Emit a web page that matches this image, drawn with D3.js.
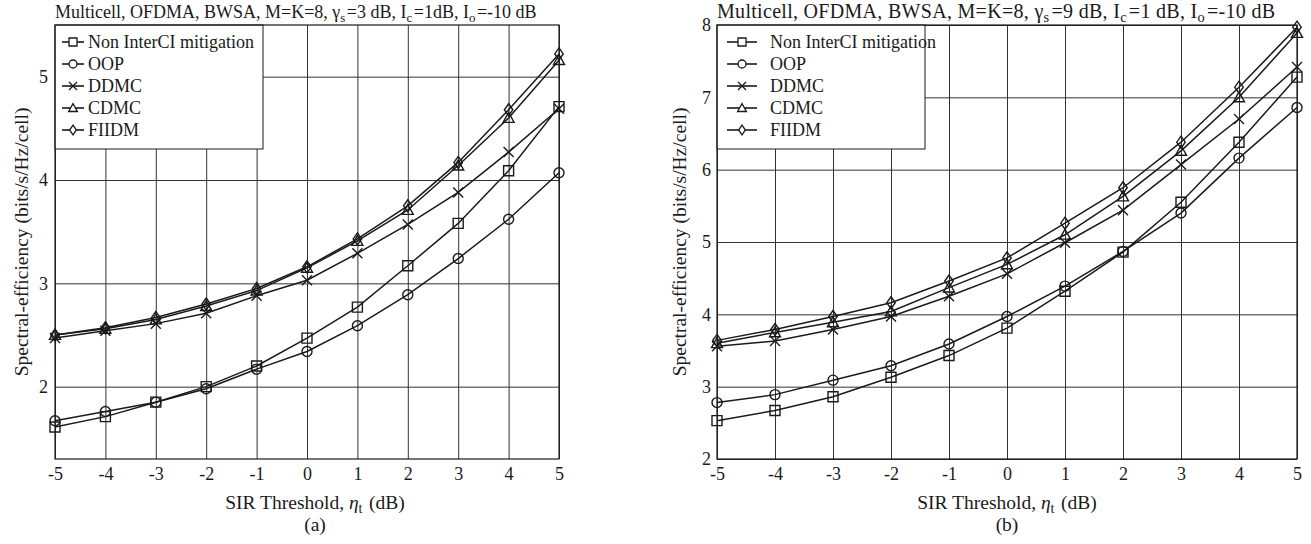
<!DOCTYPE html>
<html><head><meta charset="utf-8">
<script src="https://cdn.jsdelivr.net/npm/d3@7"></script>
<style>
body{margin:0;background:#fff}
text{font-family:"Liberation Serif","Times New Roman",serif;fill:#1a1a1a}
</style>
</head><body>
<svg id="c" width="1311" height="544"></svg>
<script>
// ---------- data ----------
const sirThreshold = [-5,-4,-3,-2,-1,0,1,2,3,4,5];
const seriesNames = ["Non InterCI mitigation","OOP","DDMC","CDMC","FIIDM"];
const markerTypes = ["square","circle","cross","triangle","diamond"];
const xTickLabels = ["-5","-4","-3","-2","-1","0","1","2","3","4","5"];

// (a) gamma_s = 3 dB
const aNonInterCI = [1.61,1.71,1.85,2.00,2.20,2.47,2.77,3.17,3.58,4.09,4.71];
const aOOP        = [1.67,1.76,1.85,1.98,2.17,2.34,2.59,2.89,3.24,3.62,4.07];
const aDDMC       = [2.47,2.54,2.61,2.71,2.88,3.03,3.29,3.57,3.88,4.27,4.69];
const aCDMC       = [2.50,2.56,2.65,2.78,2.93,3.15,3.41,3.71,4.14,4.60,5.16];
const aFIIDM      = [2.50,2.57,2.67,2.80,2.95,3.16,3.43,3.75,4.17,4.68,5.22];
const aYTicks = [2,3,4,5];

// (b) gamma_s = 9 dB
const bNonInterCI = [2.53,2.67,2.86,3.13,3.43,3.81,4.32,4.86,5.55,6.38,7.28];
const bOOP        = [2.78,2.89,3.09,3.29,3.59,3.97,4.39,4.87,5.40,6.16,6.86];
const bDDMC       = [3.56,3.63,3.79,3.97,4.25,4.56,4.99,5.44,6.07,6.70,7.42];
const bCDMC       = [3.60,3.75,3.89,4.04,4.37,4.69,5.10,5.63,6.26,7.00,7.89];
const bFIIDM      = [3.64,3.79,3.97,4.16,4.46,4.78,5.26,5.75,6.38,7.14,7.97];
const bYTicks = [2,3,4,5,6,7,8];

// ---------- drawing ----------
const svg = d3.select("#c");

function markerPath(type, s){
  const h = s/2;
  switch(type){
    case "square": return `M${-h},${-h}H${h}V${h}H${-h}Z`;
    case "circle": return `M${h},0A${h},${h} 0 1,1 ${-h},0A${h},${h} 0 1,1 ${h},0Z`;
    case "cross": return `M${-h},${-h}L${h},${h}M${-h},${h}L${h},${-h}`;
    case "triangle": { const t=h*1.1; return `M0,${-t}L${t},${t*0.8}L${-t},${t*0.8}Z`; }
    case "diamond": { const w=h*0.85, v=h*1.2; return `M0,${-v}L${w},0L0,${v}L${-w},0Z`; }
  }
}

function addSubText(sel, parts){
  parts.forEach(p=>{
    const ts = sel.append("tspan").text(p.t);
    if(p.i) ts.attr("font-style","italic");
    if(p.sub){
      ts.attr("font-size","0.72em").attr("dy","0.28em");
      sel.append("tspan").attr("dy","-0.2em").text("\u200A");
    }
  });
}

function drawChart(cfg){
  const {x0,x1,y0,y1,yDomain,yTicks,series,title,sub,lg:L} = cfg;
  const x = d3.scaleLinear().domain([-5,5]).range([x0,x1]);
  const y = d3.scaleLinear().domain(yDomain).range([y1,y0]);
  const g = svg.append("g");

  // grid
  const gx = d3.axisBottom(x).tickValues(sirThreshold).tickSize(-(y1-y0)).tickFormat("");
  g.append("g").attr("transform",`translate(0,${y1})`).call(gx)
    .call(s=>s.select(".domain").remove())
    .call(s=>s.selectAll("line").attr("stroke","#333").attr("stroke-width",1));
  const gy = d3.axisLeft(y).tickValues(yTicks).tickSize(-(x1-x0)).tickFormat("");
  g.append("g").attr("transform",`translate(${x0},0)`).call(gy)
    .call(s=>s.select(".domain").remove())
    .call(s=>s.selectAll("line").attr("stroke","#333").attr("stroke-width",1));

  // tick labels
  const ax = d3.axisBottom(x).tickValues(sirThreshold).tickSize(0).tickPadding(8)
    .tickFormat((d,i)=>xTickLabels[i]);
  g.append("g").attr("transform",`translate(0,${y1})`).call(ax)
    .call(s=>s.select(".domain").remove())
    .call(s=>s.selectAll("text").attr("font-size",18).attr("font-family","Liberation Serif").attr("fill","#1a1a1a"));
  const ay = d3.axisLeft(y).tickValues(yTicks).tickSize(0).tickPadding(cfg.yPad).tickFormat(d3.format("d"));
  g.append("g").attr("transform",`translate(${x0},0)`).call(ay)
    .call(s=>s.select(".domain").remove())
    .call(s=>s.selectAll("text").attr("font-size",18).attr("font-family","Liberation Serif").attr("fill","#1a1a1a"));

  // lines + markers
  const line = d3.line().x((d,i)=>x(sirThreshold[i])).y(d=>y(d));
  series.forEach((vals,k)=>{
    g.append("path").attr("d",line(vals)).attr("fill","none").attr("stroke","#1a1a1a").attr("stroke-width",1.5);
    g.selectAll(null).data(vals).join("path")
      .attr("transform",(d,i)=>`translate(${x(sirThreshold[i])},${y(d)})`)
      .attr("d",markerPath(markerTypes[k],10))
      .attr("fill","none").attr("stroke","#1a1a1a").attr("stroke-width",1.4);
  });

  // legend
  const lgG = g.append("g");
  const lx = x0, ly = y0, lh = 124;
  lgG.append("rect").attr("x",lx).attr("y",ly).attr("width",L.w).attr("height",lh)
    .attr("fill","#fff").attr("stroke","#1a1a1a").attr("stroke-width",1);
  seriesNames.forEach((n,k)=>{
    const yy = ly + 17 + k*22;
    lgG.append("line").attr("x1",lx+L.l1).attr("x2",lx+L.l2).attr("y1",yy).attr("y2",yy)
      .attr("stroke","#1a1a1a").attr("stroke-width",1.6);
    lgG.append("path").attr("transform",`translate(${(2*lx+L.l1+L.l2)/2},${yy})`).attr("d",markerPath(markerTypes[k],8))
      .attr("fill","#fff").attr("stroke","#1a1a1a").attr("stroke-width",1.3);
    lgG.append("text").attr("x",lx+L.t).attr("y",yy+6).attr("font-size",18).text(n);
  });

  // frame
  g.append("rect").attr("x",x0).attr("y",y0).attr("width",x1-x0).attr("height",y1-y0)
    .attr("fill","none").attr("stroke","#1a1a1a").attr("stroke-width",1.2);

  // title
  const tt = g.append("text").attr("x",x0).attr("y",y0-7).attr("font-size",cfg.titleSize)
    .attr("letter-spacing",cfg.titleSpacing);
  addSubText(tt, title);

  // x label
  const cx = cfg.labCx;
  const xl = g.append("text").attr("x",cx).attr("y",y1+50).attr("font-size",19.5).attr("text-anchor","middle");
  addSubText(xl, [{t:"SIR Threshold, "},{t:"\u03B7",i:true},{t:"t",sub:true},{t:" (dB)"}]);
  g.append("text").attr("x",cx).attr("y",y1+72).attr("font-size",19.5).attr("text-anchor","middle").text(sub);

  // y label
  g.append("text").attr("transform",`translate(${x0-cfg.yLab},${(y0+y1)/2}) rotate(-90)`)
    .attr("text-anchor","middle").attr("font-size",19.5).text("Spectral-efficiency (bits/s/Hz/cell)");
}

drawChart({
  x0:55, x1:559, y0:25, y1:459, yDomain:[1.3,5.5], yTicks:aYTicks, yPad:7, yLab:27, labCx:315,
  series:[aNonInterCI,aOOP,aDDMC,aCDMC,aFIIDM], sub:"(a)",
  lg:{w:208,l1:7,l2:29,t:33}, titleSize:18, titleSpacing:0,
  title:[{t:"Multicell, OFDMA, BWSA, M=K=8, \u03B3"},{t:"s",sub:true},{t:"=3 dB, I"},{t:"c",sub:true},{t:"=1dB, I"},{t:"o",sub:true},{t:"=-10 dB"}]
});
drawChart({
  x0:717, x1:1297, y0:25, y1:459, yDomain:[2,8], yTicks:bYTicks, yPad:6, yLab:31, labCx:1007,
  series:[bNonInterCI,bOOP,bDDMC,bCDMC,bFIIDM], sub:"(b)",
  lg:{w:208,l1:10,l2:40,t:53}, titleSize:20, titleSpacing:0.3,
  title:[{t:"Multicell, OFDMA, BWSA, M=K=8, \u03B3"},{t:"s",sub:true},{t:"=9 dB, I"},{t:"c",sub:true},{t:"=1 dB, I"},{t:"o",sub:true},{t:"=-10 dB"}]
});
</script>
</body></html>
